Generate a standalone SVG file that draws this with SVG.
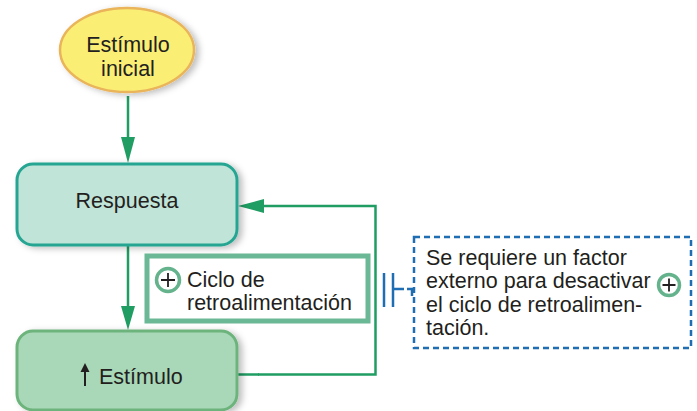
<svg xmlns="http://www.w3.org/2000/svg" width="697" height="411" viewBox="0 0 697 411">
<defs>
<style>
.t{font-family:"Liberation Sans",Arial,sans-serif;font-size:21.5px;fill:#231f20}
.g{stroke:#1f9d63;fill:none;stroke-width:2.5}
.ah{fill:#1f9d63}
.blue{stroke:#1f6db2;fill:none;stroke-width:2.5}
.plus{fill:none;stroke:#64b38d;stroke-width:3.5}
.pl{stroke:#231f20;stroke-width:1.8;fill:none}
</style>
<filter id="sh" x="-10%" y="-10%" width="125%" height="130%">
<feDropShadow dx="4" dy="2" stdDeviation="3" flood-color="#000" flood-opacity="0.25"/>
</filter>
</defs>
<rect width="697" height="411" fill="#fff"/>
<g id="connectors">
<path class="g" d="M128,96 V140" stroke-width="4"/>
<polygon class="ah" points="121,137 135,137 128,163"/>
<path class="g" d="M128,245 V308"/>
<polygon class="ah" points="121,306 135,306 128,330"/>
<path class="g" d="M258,374.5 H375.5 V206 H262"/>
<path class="g" d="M237,374.5 H259" stroke-width="4.5"/>
<polygon class="ah" points="238,206 264,199 264,213"/>
<path class="blue" d="M384,273 V307 M393,273 V307 M393,289 H404 M407,289 H412 V296"/>
</g>
<g id="estimulo-inicial">
<ellipse cx="127" cy="50" rx="67" ry="42" fill="#fbee74" stroke="#e9b45a" stroke-width="2.5" filter="url(#sh)"/>
<text class="t" x="128" y="52" text-anchor="middle">Estímulo</text>
<text class="t" x="128" y="76" text-anchor="middle">inicial</text>
</g>
<g id="respuesta">
<rect x="17" y="164" width="220" height="81" rx="16" fill="#c0e4d8" stroke="#25a692" stroke-width="3" filter="url(#sh)"/>
<text class="t" x="127" y="208" text-anchor="middle">Respuesta</text>
</g>
<g id="estimulo">
<rect x="17" y="331" width="220" height="79" rx="16" fill="#a8d8b8" stroke="#6db37c" stroke-width="3" filter="url(#sh)"/>
<path d="M85,386 V370" stroke="#231f20" stroke-width="2"/>
<polygon points="80.5,372 89.5,372 85,363" fill="#231f20"/>
<text class="t" x="99" y="384">Estímulo</text>
</g>
<g id="ciclo">
<rect x="147" y="256" width="221" height="65" fill="none" stroke="#6ab895" stroke-width="5"/>
<circle class="plus" cx="168" cy="280" r="11.5"/>
<path class="pl" d="M161,280 H175 M168,273 V287"/>
<text class="t" x="187" y="287">Ciclo de</text>
<text class="t" x="187" y="310">retroalimentación</text>
</g>
<g id="nota">
<rect x="414" y="237" width="277" height="111" fill="none" stroke="#1f6db2" stroke-width="2.5" stroke-dasharray="6,4"/>
<text class="t" x="426" y="265">Se requiere un factor</text>
<text class="t" x="426" y="288">externo para desactivar</text>
<text class="t" x="426" y="312">el ciclo de retroalimen-</text>
<text class="t" x="426" y="335">tación.</text>
<circle class="plus" cx="669" cy="285" r="10.5"/>
<path class="pl" d="M662.5,285 H675.5 M669,278.5 V291.5"/>
</g>
</svg>
